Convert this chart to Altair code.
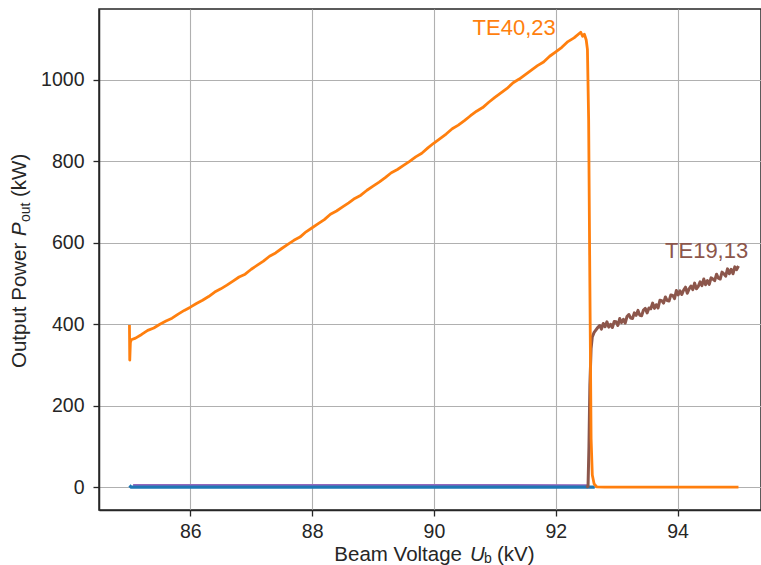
import altair as alt
import pandas as pd

# ---- data ----
orange_x = [85.00, 85.005, 85.015, 85.03, 85.1, 85.2, 85.3, 85.4, 85.5, 85.6, 85.7, 85.8, 85.9,
            86.0, 86.1, 86.2, 86.3, 86.4, 86.5, 86.6, 86.7, 86.8, 86.9,
            87.0, 87.1, 87.2, 87.3, 87.4, 87.5, 87.6, 87.7, 87.8, 87.9,
            88.0, 88.1, 88.2, 88.3, 88.4, 88.5, 88.6, 88.7, 88.8, 88.9,
            89.0, 89.1, 89.2, 89.3, 89.4, 89.5, 89.6, 89.7, 89.8, 89.9,
            90.0, 90.1, 90.2, 90.3, 90.4, 90.5, 90.6, 90.7, 90.8, 90.9,
            91.0, 91.1, 91.2, 91.3, 91.4, 91.5, 91.6, 91.7, 91.8, 91.9,
            92.0, 92.1, 92.2, 92.3, 92.41, 92.44, 92.47, 92.5, 92.52, 92.54,
            92.56, 92.58, 92.6, 92.63, 92.67, 92.8, 93.5, 94.0, 94.5, 95.0]
orange_y = [398, 312, 355, 362, 366, 375, 385, 391, 400, 408, 415, 425, 434,
            442, 451, 459, 468, 479, 487, 496, 506, 516, 523,
            535, 545, 555, 567, 575, 586, 596, 606, 614, 627,
            637, 647, 657, 670, 678, 688, 698, 709, 717, 729,
            739, 749, 760, 772, 780, 790, 800, 811, 820, 833,
            845, 856, 867, 880, 889, 900, 912, 923, 932, 945,
            957, 968, 979, 993, 1002, 1013, 1024, 1035, 1044, 1058,
            1069, 1080, 1094, 1103, 1117, 1107, 1112, 1098, 1075, 900,
            500, 120, 30, 8, 1, 0, 0, 0, 0, 0]

brown_x = [92.50, 92.53, 92.545, 92.56, 92.58, 92.60, 92.63, 92.69,
           92.72, 92.75, 92.78, 92.81, 92.84, 92.87, 92.90, 92.93, 92.96, 92.99,
           93.02, 93.05, 93.08, 93.11, 93.14, 93.17, 93.20, 93.23, 93.26, 93.29,
           93.32, 93.35, 93.38, 93.41, 93.44, 93.47, 93.50, 93.53, 93.56, 93.59,
           93.62, 93.65, 93.68, 93.71, 93.74, 93.77, 93.80, 93.83, 93.86, 93.89,
           93.92, 93.95, 93.98, 94.01, 94.04, 94.07, 94.10, 94.13, 94.16, 94.19,
           94.22, 94.25, 94.28, 94.31, 94.34, 94.37, 94.40, 94.43, 94.46, 94.49,
           94.52, 94.55, 94.58, 94.61, 94.64, 94.67, 94.70, 94.73, 94.76, 94.79,
           94.82, 94.85, 94.88, 94.91, 94.94, 94.97, 95.00]
brown_y = [0, 2, 100, 250, 340, 369, 380, 392,
           397, 388, 402, 394, 406, 393, 400, 392, 407, 406,
           397, 414, 404, 412, 403, 419, 424, 415, 414, 428,
           422, 434, 422, 421, 435, 439, 428, 440, 438, 452,
           439, 448, 440, 459, 458, 452, 467, 458, 457, 472,
           471, 463, 483, 472, 482, 473, 484, 491, 476, 487,
           494, 485, 501, 487, 493, 504, 495, 511, 497, 507,
           498, 514, 511, 507, 523, 513, 511, 528, 524, 518,
           536, 524, 535, 524, 541, 534, 543]

blue_x = [85.0, 85.03, 87.0, 89.0, 91.0, 92.64]
blue_y = [4, 0, 0, 0, 0, 0]

purple_x = [85.06, 87.0, 89.0, 91.0, 92.52]
purple_y = [5, 5, 5, 5, 4]

label_text = ["TE40,23", "TE19,13"]
label_x = [92.0, 95.16]
label_y = [1127, 580]
label_color = ["#ff7f0e", "#8c564b"]

x_ticks = [86, 88, 90, 92, 94]
y_ticks = [0, 200, 400, 600, 800, 1000]

FONT = "Liberation Sans"
W, H = 662, 501
XDOM = [84.5, 95.37]
YDOM = [-56, 1174]

xs = alt.Scale(domain=XDOM, nice=False, zero=False)
ys = alt.Scale(domain=YDOM, nice=False, zero=False)


def line_layer(xv, yv, color, width=2.8):
    d = pd.DataFrame({"U": xv, "P": yv, "idx": list(range(len(xv)))})
    return alt.Chart(d).mark_line(strokeWidth=width, strokeJoin="round", color=color).encode(
        x=alt.X("U:Q", scale=xs, axis=alt.Axis(values=x_ticks, format="d", title=None)),
        y=alt.Y("P:Q", scale=ys, axis=alt.Axis(values=y_ticks, format="d", title=None)),
        order=alt.Order("idx:Q"),
    )


purple = line_layer(purple_x, purple_y, "#9467bd", 2.4)
blue = line_layer(blue_x, blue_y, "#1f77b4", 3.2)
brown = line_layer(brown_x, brown_y, "#8c564b", 3.0)
orange = line_layer(orange_x, orange_y, "#ff7f0e", 2.8)

lab = pd.DataFrame({"text": label_text, "U": label_x, "P": label_y, "c": label_color})
labels = alt.Chart(lab).mark_text(font=FONT, fontSize=22, align="right", baseline="middle").encode(
    x=alt.X("U:Q", scale=xs),
    y=alt.Y("P:Q", scale=ys),
    text="text:N",
    color=alt.Color("c:N", scale=None),
)


# axis titles composed from pieces (italic symbol + subscript)
def piece(txt, x, y, size=20.5, style="normal", align="left", angle=0):
    return alt.Chart(pd.DataFrame({"t": [txt]})).mark_text(
        font=FONT, fontSize=size, fontStyle=style, align=align, baseline="alphabetic",
        angle=angle, color="#262626"
    ).encode(text="t:N", x=alt.value(x), y=alt.value(y))


xb = H + 51
xt = [
    piece("Beam Voltage", 462 - 99, xb, align="right"),
    piece("U", 470 - 99, xb, style="italic"),
    piece("b", 484 - 99, xb + 2, size=14),
    piece("(kV)", 497 - 99, xb),
]
yx = 26 - 99
yt = [
    piece("Output Power", yx, 368 - 9, angle=270),
    piece("P", yx, 236 - 9, style="italic", angle=270),
    piece("out", yx + 4, 222 - 9, size=14, angle=270),
    piece("(kW)", yx, 197 - 9, angle=270),
]

chart = alt.layer(purple, blue, brown, orange, labels, *xt, *yt).properties(
    width=W, height=H,
    autosize=alt.AutoSizeParams(type="none"),
    padding={"left": 99, "top": 9, "right": 0, "bottom": 55},
).configure_view(
    stroke="#262626", strokeWidth=1.5
).configure_axis(
    grid=True, gridColor="#b0b0b0", gridWidth=1.1,
    domainColor="#262626", domainWidth=1.5,
    tickColor="#262626", tickWidth=1.3, tickSize=6,
    labelFont=FONT, labelFontSize=19.5, labelColor="#262626",
).configure_axisX(labelPadding=6).configure_axisY(labelPadding=9)

chart.save("out.html", embed_options={"renderer": "svg", "actions": False})
